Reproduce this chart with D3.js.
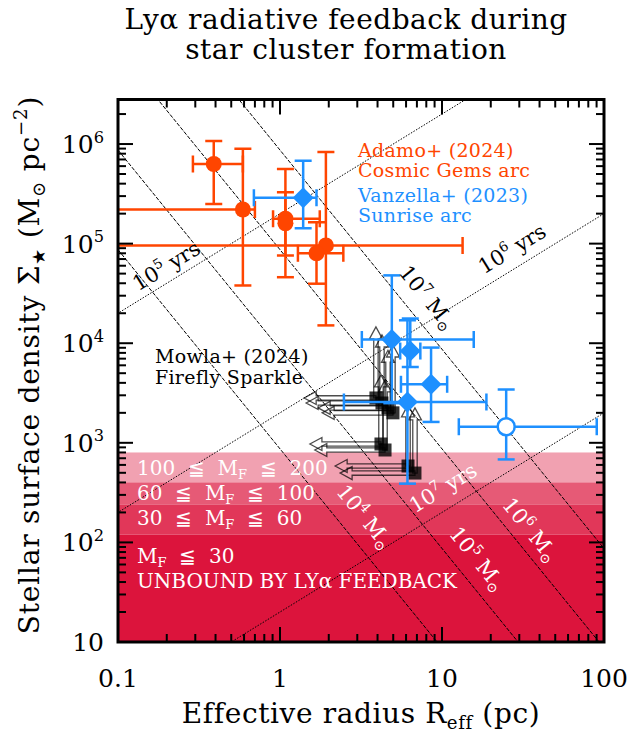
<!DOCTYPE html>
<html>
<head>
<meta charset="utf-8">
<script src="https://cdn.jsdelivr.net/npm/d3@7"></script>
<style>
body { margin: 0; background: #fff; }
svg text { font-family: "DejaVu Serif", serif; white-space: pre; }
</style>
</head>
<body>
<div id="chart"></div>
<script>
// ---- data ----
// Adamo+ (2024), Cosmic Gems arc
const adamoR   = [0.39, 0.59, 1.08, 1.08, 1.92, 1.68];
const adamoS   = [6.3e5, 2.2e5, 1.78e5, 1.6e5, 9.6e4, 8.0e4];
const adamoRlo = [0.29, 0.01, 0.906, null, 0.01, 1.29];
const adamoRhi = [0.59, 0.70, 1.76, null, 13.4, 2.46];
const adamoSlo = [2.5e5, 3.8e4, 4.6e4, 7.6e4, 1.51e4, 3.96e4];
const adamoShi = [1.07e6, 8.95e5, 5.6e5, 3.28e5, 8.3e5, 1.64e5];

// Vanzella+ (2023), Sunrise arc
const vanzR    = [1.39, 4.9, 6.37, 8.56, 6.12, 24.9];
const vanzS    = [2.89e5, 1.09e4, 8.35e3, 3.87e3, 2.57e3, 1.45e3];
const vanzRlo  = [0.69, 3.2, 5.52, 5.58, 2.48, 12.7];
const vanzRhi  = [1.68, 15.7, 7.35, 10.76, 18.8, 90.2];
const vanzSlo  = [1.43e5, 2.5e3, 5.77e3, 1.62e3, 389, 681];
const vanzShi  = [6.8e5, 4.8e4, 1.77e4, 9.04e3, 1.7e4, 3.43e3];
const vanzOpen = [false, false, false, false, false, true];

// Mowla+ (2024), Firefly Sparkle: values with R upper limits / Sigma lower limits
const mowlaR    = [3.91, 4.26, 4.64, 4.98, 4.20, 4.45, 6.17, 6.81];
const mowlaS    = [2.82e3, 2.51e3, 2.24e3, 2.0e3, 973, 847, 585, 497];
const mowlaRlim = [1.41, 1.45, 1.72, 1.82, 1.53, 1.64, 2.19, 2.35];
const mowlaSlim = [1.46e4, 1.21e4, 8.5e3, 9.6e3, 4.8e3, 4.28e3, 2.4e3, 2.24e3];

// feedback bands (upper Sigma edge of each band)
const bandSigma  = [800, 400, 240, 120];
const bandAlpha  = [0.4, 0.7, 0.85, 1.0];
const bandLabels = ["100", "60", "30", null];
const bandUpper  = ["200", "100", "60", "30"];

// reference lines
const massLevels = [1e4, 1e5, 1e6, 1e7];
const massExp    = ["4", "5", "6", "7"];
const massConst  = 11.5;          // M = k Sigma R^2
const ageLevels  = [1e5, 1e6, 1e7];
const ageExp     = ["5", "6", "7"];
const ageConst   = 2e15;          // Sigma = c R / t^2

const xTicks = [0.1, 1, 10, 100];
const xTickLabels = ["0.1", "1", "10", "100"];
const yTicks = [10, 1e2, 1e3, 1e4, 1e5, 1e6];
const yTickExp = [null, "2", "3", "4", "5", "6"];

// ---- layout ----
const W = 631, H = 733;
const orange = "#ff4500", blue = "#1e90ff", crimson = "#dc143c";

const x = d3.scaleLog().domain([0.1, 100]).range([118, 604]);
const y = d3.scaleLog().domain([10, 2.8e6]).range([642, 99.5]);

const svg = d3.select("#chart").append("svg")
  .attr("width", W).attr("height", H);

svg.append("defs").append("clipPath").attr("id", "clip")
  .append("rect")
  .attr("x", x(0.1)).attr("y", y(2.8e6))
  .attr("width", x(100) - x(0.1)).attr("height", y(10) - y(2.8e6));

const plot = svg.append("g").attr("clip-path", "url(#clip)");

// helper for sub/superscripts
function rich(text, parts, fs) {
  let off = 0;
  parts.forEach(([s, kind]) => {
    let target = 0, size = fs;
    if (kind === "sup") { target = -0.42 * fs; size = 0.65 * fs; }
    if (kind === "sub") { target = 0.2 * fs; size = 0.65 * fs; }
    text.append("tspan").attr("dy", target - off).attr("font-size", size).text(s);
    off = target;
  });
}

// bands, each only its own slab
bandSigma.forEach((s, i) => {
  const lo = i < bandSigma.length - 1 ? bandSigma[i + 1] : 10;
  plot.append("rect")
    .attr("x", x(0.1)).attr("width", x(100) - x(0.1))
    .attr("y", y(s)).attr("height", y(lo) - y(s))
    .attr("fill", crimson).attr("fill-opacity", bandAlpha[i]);
});

// constant mass lines (dashed)
massLevels.forEach(m => {
  const r0 = 0.1, r1 = 100;
  plot.append("line")
    .attr("x1", x(r0)).attr("y1", y(m / (massConst * r0 * r0)))
    .attr("x2", x(r1)).attr("y2", y(m / (massConst * r1 * r1)))
    .attr("stroke", "#000").attr("stroke-width", 1)
    .attr("stroke-dasharray", "4,1.5");
});
// constant age lines (dotted)
ageLevels.forEach(t => {
  const r0 = 0.01, r1 = 1000;
  plot.append("line")
    .attr("x1", x(r0)).attr("y1", y(ageConst * r0 / (t * t)))
    .attr("x2", x(r1)).attr("y2", y(ageConst * r1 / (t * t)))
    .attr("stroke", "#000").attr("stroke-width", 1)
    .attr("stroke-dasharray", "1.5,1.5");
});

// band labels
const bandBase = [475, 500, 525];
bandLabels.forEach((lab, i) => {
  if (!lab) return;
  const t = svg.append("text").attr("x", 137).attr("y", bandBase[i])
    .attr("fill", "#fff").attr("font-size", 20);
  rich(t, [[lab + "  ≦  M", "n"], ["F", "sub"], ["  ≦  " + bandUpper[i], "n"]], 20);
});
{
  const t = svg.append("text").attr("x", 137).attr("y", 563)
    .attr("fill", "#fff").attr("font-size", 20);
  rich(t, [["M", "n"], ["F", "sub"], ["  ≦  " + bandUpper[3], "n"]], 20);
  svg.append("text").attr("x", 137).attr("y", 588)
    .attr("fill", "#fff").attr("font-size", 20)
    .text("UNBOUND BY LYα FEEDBACK");
}

// line labels
const massAngle = Math.atan(2 * (y(10) - y(100)) / (x(10) - x(1))) * 180 / Math.PI;
const ageAngle = -Math.atan((y(10) - y(100)) / (x(10) - x(1))) * 180 / Math.PI;
const massLabelPos = [[3.08, 164], [15.3, 62], [32.5, 121], [7.5, 2.6e4]];
const ageLabelPos = [[0.21, 5.2e4], [28.6, 7.7e4], [10.7, 306]];
const massLabelCol = ["#fff", "#fff", "#fff", "#000"];
const ageLabelCol = ["#000", "#000", "#fff"];

massLevels.forEach((m, i) => {
  const [r, s] = massLabelPos[i];
  const t = svg.append("text")
    .attr("transform", `translate(${x(r)},${y(s)}) rotate(${massAngle})`)
    .attr("text-anchor", "middle").attr("dy", 7)
    .attr("fill", massLabelCol[i]).attr("font-size", 21);
  rich(t, [["10", "n"], [massExp[i], "sup"], [" M", "n"], ["⊙", "sub"]], 21);
});
ageLevels.forEach((a, i) => {
  const [r, s] = ageLabelPos[i];
  const t = svg.append("text")
    .attr("transform", `translate(${x(r)},${y(s)}) rotate(${ageAngle})`)
    .attr("text-anchor", "middle").attr("dy", 7)
    .attr("fill", ageLabelCol[i]).attr("font-size", 21);
  rich(t, [["10", "n"], [ageExp[i], "sup"], [" yrs", "n"]], 21);
});

// error bars
function errBars(g, R, S, Rlo, Rhi, Slo, Shi, col, cap) {
  R.forEach((r, i) => {
    const cx = x(r), cy = y(S[i]);
    if (Rlo[i] !== null) {
      const xa = x(Rlo[i]), xb = x(Rhi[i]);
      g.append("line").attr("x1", xa).attr("x2", xb).attr("y1", cy).attr("y2", cy)
        .attr("stroke", col).attr("stroke-width", 2.5);
      [xa, xb].forEach(xx => g.append("line")
        .attr("x1", xx).attr("x2", xx).attr("y1", cy - cap).attr("y2", cy + cap)
        .attr("stroke", col).attr("stroke-width", 2.5));
    }
    const ya = y(Slo[i]), yb = y(Shi[i]);
    g.append("line").attr("x1", cx).attr("x2", cx).attr("y1", ya).attr("y2", yb)
      .attr("stroke", col).attr("stroke-width", 2.5);
    [ya, yb].forEach(yy => g.append("line")
      .attr("x1", cx - cap).attr("x2", cx + cap).attr("y1", yy).attr("y2", yy)
      .attr("stroke", col).attr("stroke-width", 2.5));
  });
}

// Adamo
const gA = plot.append("g");
errBars(gA, adamoR, adamoS, adamoRlo, adamoRhi, adamoSlo, adamoShi, orange, 8.5);
gA.selectAll("circle").data(adamoR).join("circle")
  .attr("cx", d => x(d)).attr("cy", (d, i) => y(adamoS[i]))
  .attr("r", 8).attr("fill", orange);

// Mowla: hollow arrows + squares
const gM = plot.append("g");
const sw = 2.2, hw = 6.5, hl = 12;
mowlaR.forEach((r, i) => {
  const x0 = x(r), y0 = y(mowlaS[i]);
  const x1 = x(mowlaRlim[i]);
  const y1 = y(mowlaSlim[i]);
  const ph = `M${x0},${y0 - sw}L${x1 + hl},${y0 - sw}L${x1 + hl},${y0 - hw}L${x1},${y0}` +
    `L${x1 + hl},${y0 + hw}L${x1 + hl},${y0 + sw}L${x0},${y0 + sw}Z`;
  const pv = `M${x0 - sw},${y0}L${x0 - sw},${y1 + hl}L${x0 - hw},${y1 + hl}L${x0},${y1}` +
    `L${x0 + hw},${y1 + hl}L${x0 + sw},${y1 + hl}L${x0 + sw},${y0}Z`;
  [ph, pv].forEach(p => gM.append("path").attr("d", p)
    .attr("fill", "none").attr("stroke", "#000")
    .attr("stroke-opacity", 0.7).attr("stroke-width", 1.3));
});
gM.selectAll("rect").data(mowlaR).join("rect")
  .attr("x", d => x(d) - 6.5).attr("y", (d, i) => y(mowlaS[i]) - 6.5)
  .attr("width", 13).attr("height", 13)
  .attr("fill", "#000").attr("fill-opacity", 0.8);

// Vanzella
const gV = plot.append("g");
errBars(gV, vanzR, vanzS, vanzRlo, vanzRhi, vanzSlo, vanzShi, blue, 8.5);
vanzR.forEach((r, i) => {
  const cx = x(r), cy = y(vanzS[i]);
  if (vanzOpen[i]) {
    gV.append("circle").attr("cx", cx).attr("cy", cy).attr("r", 8.5)
      .attr("fill", "#fff").attr("stroke", blue).attr("stroke-width", 2.5);
  } else {
    const d = 10.5;
    gV.append("path")
      .attr("d", `M${cx},${cy - d}L${cx + d},${cy}L${cx},${cy + d}L${cx - d},${cy}Z`)
      .attr("fill", blue);
  }
});

// ticks
const axisG = svg.append("g").attr("stroke", "#000").attr("stroke-width", 2);
function minors(lo, hi) {
  const out = [];
  for (let d = lo; d < hi; d *= 10) for (let k = 2; k <= 9; k++) out.push(d * k);
  return out;
}
const [X0, X1] = x.range(), [Y0, Y1] = y.range();
xTicks.forEach(v => {
  axisG.append("line").attr("x1", x(v)).attr("x2", x(v)).attr("y1", Y0).attr("y2", Y0 - 15);
  axisG.append("line").attr("x1", x(v)).attr("x2", x(v)).attr("y1", Y1).attr("y2", Y1 + 15);
});
minors(0.1, 100).forEach(v => {
  axisG.append("line").attr("x1", x(v)).attr("x2", x(v)).attr("y1", Y0).attr("y2", Y0 - 8);
  axisG.append("line").attr("x1", x(v)).attr("x2", x(v)).attr("y1", Y1).attr("y2", Y1 + 8);
});
yTicks.forEach(v => {
  axisG.append("line").attr("y1", y(v)).attr("y2", y(v)).attr("x1", X0).attr("x2", X0 + 15);
  axisG.append("line").attr("y1", y(v)).attr("y2", y(v)).attr("x1", X1).attr("x2", X1 - 15);
});
minors(10, 1e7).filter(v => v < 2.8e6).forEach(v => {
  axisG.append("line").attr("y1", y(v)).attr("y2", y(v)).attr("x1", X0).attr("x2", X0 + 8);
  axisG.append("line").attr("y1", y(v)).attr("y2", y(v)).attr("x1", X1).attr("x2", X1 - 8);
});
svg.append("rect").attr("x", X0).attr("y", Y1).attr("width", X1 - X0).attr("height", Y0 - Y1)
  .attr("fill", "none").attr("stroke", "#000").attr("stroke-width", 3);

// tick labels
xTicks.forEach((v, i) => {
  svg.append("text").attr("x", x(v)).attr("y", 687).attr("text-anchor", "middle")
    .attr("font-size", 25).text(xTickLabels[i]);
});
yTicks.forEach((v, i) => {
  const t = svg.append("text").attr("x", 104).attr("y", y(v) + 9)
    .attr("text-anchor", "end").attr("font-size", 25);
  if (yTickExp[i]) rich(t, [["10", "n"], [yTickExp[i], "sup"]], 25);
  else t.text("10");
});

// axis titles
{
  const t = svg.append("text").attr("x", 361).attr("y", 723)
    .attr("text-anchor", "middle").attr("font-size", 28).attr("letter-spacing", 0.6);
  rich(t, [["Effective radius R", "n"], ["eff", "sub"], [" (pc)", "n"]], 28);
  const ty = svg.append("text").attr("transform", "translate(39,365) rotate(-90)")
    .attr("text-anchor", "middle").attr("font-size", 28).attr("letter-spacing", 0.8);
  rich(ty, [["Stellar surface density Σ", "n"], ["★", "sub"], [" (M", "n"], ["⊙", "sub"],
    [" pc", "n"], ["−2", "sup"], [")", "n"]], 28);
}

// title
svg.append("text").attr("x", 346).attr("y", 29).attr("text-anchor", "middle")
  .attr("font-size", 28).attr("letter-spacing", 0.5).text("Lyα radiative feedback during");
svg.append("text").attr("x", 346).attr("y", 59).attr("text-anchor", "middle")
  .attr("font-size", 28).attr("letter-spacing", 0.5).text("star cluster formation");

// legend texts
const legend = [
  ["Adamo+ (2024)", orange, 358, 157], ["Cosmic Gems arc", orange, 358, 177],
  ["Vanzella+ (2023)", blue, 358, 201.5], ["Sunrise arc", blue, 358, 221.5],
  ["Mowla+ (2024)", "#000", 155, 363], ["Firefly Sparkle", "#000", 155, 384]
];
legend.forEach(([s, c, lx, ly]) => {
  svg.append("text").attr("x", lx).attr("y", ly).attr("fill", c)
    .attr("font-size", 19).attr("letter-spacing", 0.3).text(s);
});
</script>
</body>
</html>
